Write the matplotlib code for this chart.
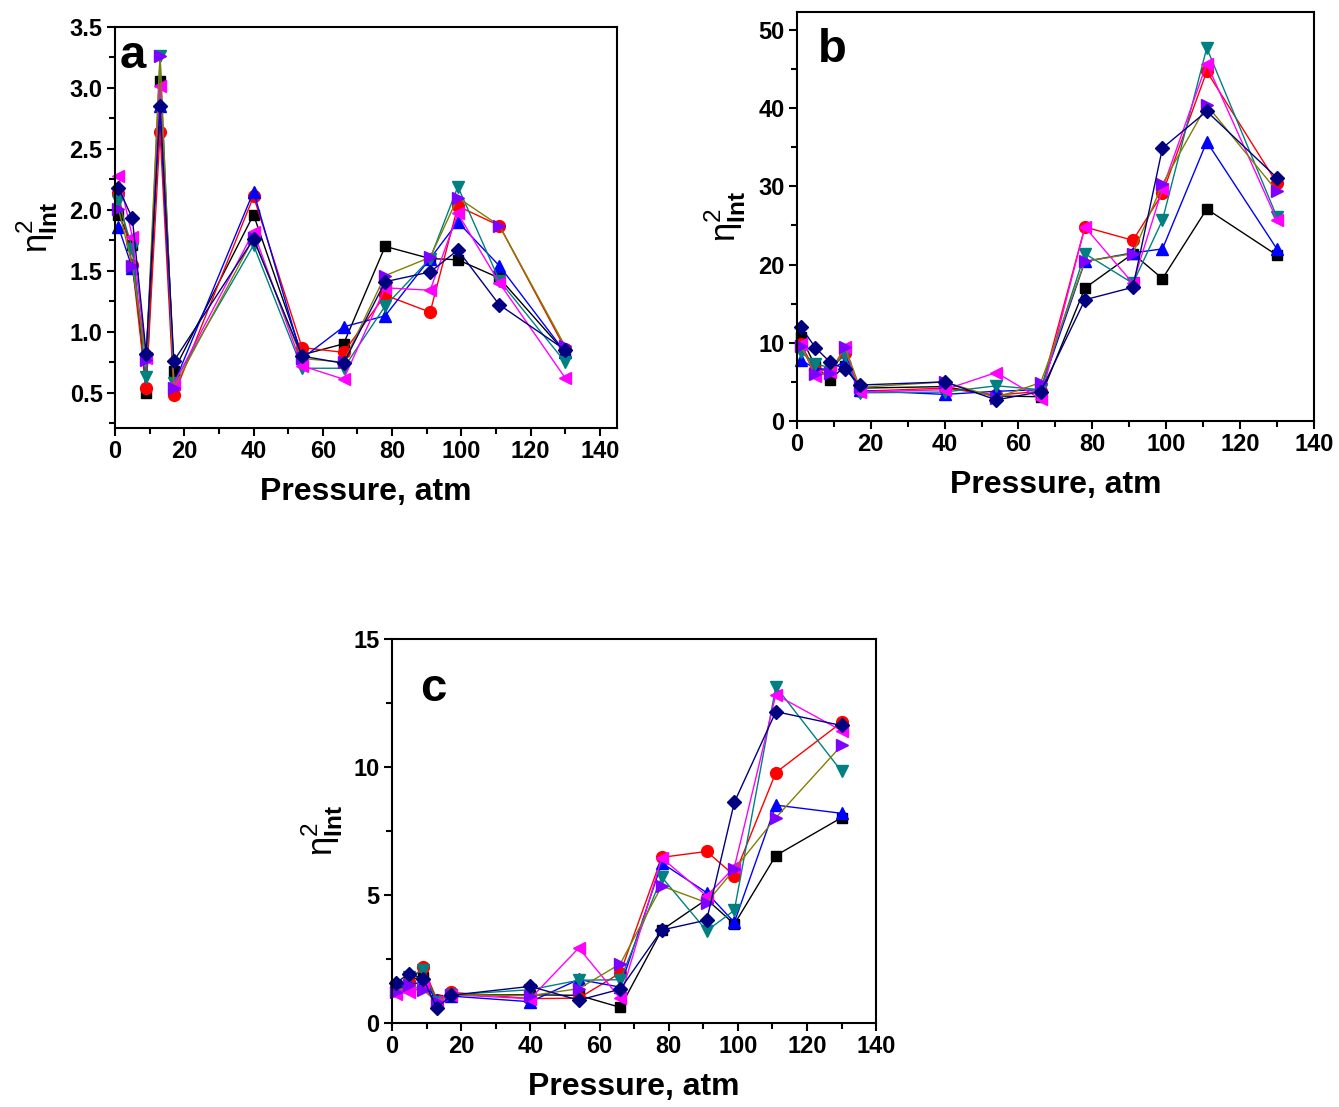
import matplotlib.pyplot as plt
from matplotlib.ticker import MultipleLocator

plt.rcParams['font.family'] = ['Liberation Sans', 'DejaVu Sans']
plt.rcParams['mathtext.fontset'] = 'custom'
plt.rcParams['mathtext.rm'] = 'Liberation Sans'
plt.rcParams['mathtext.bf'] = 'Liberation Sans:bold'

pressure = [1, 5, 9, 13, 17, 40, 54, 66, 78, 91, 99, 111, 130]

# panel a
a_black = [1.96, 1.71, 0.50, 3.06, 0.68, 1.96, 0.81, 0.90, 1.70, 1.60, 1.59, 1.44, 0.83]
a_red = [2.14, 1.55, 0.54, 2.64, 0.48, 2.11, 0.87, 0.83, 1.30, 1.16, 2.03, 1.87, 0.86]
a_blue = [1.86, 1.52, 0.80, 2.85, 0.57, 2.15, 0.78, 1.04, 1.13, 1.60, 1.90, 1.54, 0.83]
a_teal = [2.07, 1.68, 0.63, 3.26, 0.58, 1.71, 0.70, 0.70, 1.21, 1.60, 2.19, 1.42, 0.75]
a_magenta = [2.28, 1.78, 0.78, 3.02, 0.57, 1.82, 0.72, 0.61, 1.36, 1.34, 1.97, 1.40, 0.62]
a_purple = [2.01, 1.54, 0.77, 3.26, 0.54, 1.77, 0.78, 0.75, 1.46, 1.61, 2.10, 1.87, 0.88]
a_navy = [2.18, 1.93, 0.82, 2.85, 0.76, 1.76, 0.80, 0.74, 1.41, 1.49, 1.67, 1.22, 0.85]

# panel b
b_black = [10.8, 7.0, 5.3, 7.0, 4.2, 4.4, 3.2, 3.1, 17.0, 21.4, 18.2, 27.1, 21.2]
b_red = [9.8, 6.5, 6.5, 8.7, 3.8, 4.2, 3.3, 3.8, 24.8, 23.1, 29.1, 44.7, 30.4]
b_blue = [7.8, 6.7, 6.6, 7.6, 3.9, 3.4, 3.8, 4.0, 20.4, 21.5, 22.0, 35.7, 22.0]
b_teal = [8.8, 7.3, 6.8, 8.4, 3.6, 3.7, 4.5, 4.0, 21.4, 17.6, 25.7, 47.7, 26.1]
b_magenta = [9.9, 5.7, 6.3, 9.4, 3.7, 4.0, 6.2, 2.8, 24.8, 17.6, 29.7, 45.7, 25.7]
b_purple = [9.6, 6.0, 6.1, 9.5, 4.3, 5.0, 3.0, 4.9, 20.4, 21.4, 30.3, 40.4, 29.4]
b_navy = [12.06, 9.38, 7.5, 6.65, 4.6, 5.0, 2.7, 3.75, 15.5, 17.1, 34.9, 39.6, 31.1]

# panel c
c_black = [1.5, 1.7, 1.8, 0.9, 1.1, 1.1, 1.08, 0.61, 3.63, 4.83, 3.86, 6.54, 8.02]
c_red = [1.4, 1.6, 2.2, 0.9, 1.2, 0.95, 0.97, 1.95, 6.47, 6.7, 5.76, 9.78, 11.74]
c_blue = [1.3, 1.5, 1.6, 0.9, 1.05, 0.83, 1.7, 1.4, 6.25, 5.09, 3.93, 8.51, 8.19]
c_teal = [1.4, 1.8, 2.08, 0.8, 1.1, 1.3, 1.67, 1.69, 5.7, 3.6, 4.4, 13.14, 9.83]
c_magenta = [1.15, 1.2, 1.4, 0.8, 1.1, 0.95, 2.93, 0.96, 6.45, 4.96, 6.08, 12.82, 11.42]
c_purple = [1.2, 1.47, 1.3, 0.8, 1.1, 1.07, 1.34, 2.31, 5.35, 4.7, 6.0, 8.02, 10.84]
c_navy = [1.56, 1.93, 1.73, 0.57, 1.08, 1.43, 0.89, 1.32, 3.63, 4.02, 8.62, 12.16, 11.62]

# (marker, line colour, marker colour, size)
styles = [
    ('s', '#000000', '#000000', 7.5),
    ('o', '#FF0000', '#FF0000', 8.5),
    ('^', '#0000FF', '#0000FF', 9),
    ('v', '#008080', '#008080', 9),
    ('<', '#FF00FF', '#FF00FF', 9),
    ('>', '#808000', '#8000FF', 9),
    ('D', '#000080', '#000080', 7.5),
]


def draw(ax, series, xlim, ylim, ymaj, ymin, letter, lpos, ylab_x):
    for ys, (m, lc, mc, ms) in zip(series, styles):
        ax.plot(pressure, ys, color=lc, lw=1.0, marker=m, ms=ms,
                mfc=mc, mec=mc, clip_on=False)
    ax.set_xlim(*xlim)
    ax.set_ylim(*ylim)
    ax.xaxis.set_major_locator(MultipleLocator(20))
    ax.xaxis.set_minor_locator(MultipleLocator(10))
    ax.yaxis.set_major_locator(MultipleLocator(ymaj))
    ax.yaxis.set_minor_locator(MultipleLocator(ymin))
    ax.tick_params(which='both', direction='out', top=False, right=False,
                   width=1.5)
    ax.tick_params(which='major', length=6, labelsize=17, pad=3)
    ax.tick_params(which='minor', length=4)
    for lab in ax.get_xticklabels() + ax.get_yticklabels():
        lab.set_fontweight('bold')
    for s in ax.spines.values():
        s.set_linewidth(1.5)
    ax.set_xlabel('Pressure, atm', fontsize=23, fontweight='bold', labelpad=10)
    ax.set_ylabel(r'$\mathrm{\eta}^{2}_{\mathbf{Int}}$', fontsize=25)
    ax.yaxis.set_label_coords(ylab_x, 0.5)
    ax.text(lpos[0], lpos[1], letter, transform=ax.transAxes, fontsize=34,
            fontweight='bold', ha='left', va='baseline')


fig = plt.figure(figsize=(13.39, 11.07), dpi=100)

ax_a = fig.add_axes([0.0859, 0.6134, 0.375, 0.3622])
draw(ax_a, [a_black, a_red, a_blue, a_teal, a_magenta, a_purple, a_navy],
     (0, 145), (0.21, 3.5), 0.5, 0.25, 'a', (0.01, 0.898), -0.11)

ax_b = fig.add_axes([0.5952, 0.6197, 0.386, 0.3695])
draw(ax_b, [b_black, b_red, b_blue, b_teal, b_magenta, b_purple, b_navy],
     (0, 140), (0, 52.3), 10, 5, 'b', (0.04, 0.878), -0.095)

ax_c = fig.add_axes([0.2928, 0.0759, 0.3615, 0.3469])
draw(ax_c, [c_black, c_red, c_blue, c_teal, c_magenta, c_purple, c_navy],
     (0, 140), (0, 15), 5, 2.5, 'c', (0.058, 0.839), -0.097)

fig.savefig('out.png', dpi=100)
